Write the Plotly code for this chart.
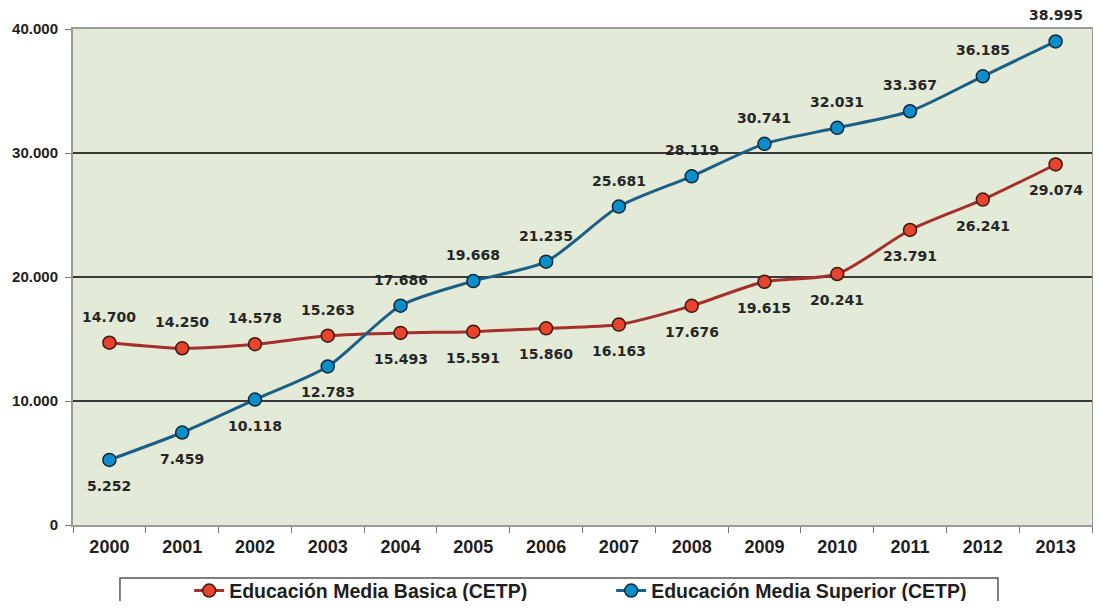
import plotly.graph_objects as go

# datos
anios = ["2000", "2001", "2002", "2003", "2004", "2005", "2006",
         "2007", "2008", "2009", "2010", "2011", "2012", "2013"]
basica = [14700, 14250, 14578, 15263, 15493, 15591, 15860,
          16163, 17676, 19615, 20241, 23791, 26241, 29074]
superior = [5252, 7459, 10118, 12783, 17686, 19668, 21235,
            25681, 28119, 30741, 32031, 33367, 36185, 38995]

# etiqueta arriba (+1) o abajo (-1)
lado_basica = [1, 1, 1, 1] + [-1] * 10
lado_superior = [-1, -1, -1, -1] + [1] * 10


def fmt(v):
    return f"{v:,.0f}".replace(",", ".")


fuente = "Liberation Sans"
fuente_etq = "DejaVu Sans"

fig = go.Figure()

fig.add_trace(go.Scatter(
    x=anios, y=basica,
    name="Educación Media Basica (CETP)",
    mode="lines+markers",
    line=dict(color="#A3302B", width=3, shape="spline", smoothing=0.7),
    marker=dict(size=13, color="#E8432C", line=dict(color="#3A1A12", width=1.5)),
    cliponaxis=False,
))

fig.add_trace(go.Scatter(
    x=anios, y=superior,
    name="Educación Media Superior (CETP)",
    mode="lines+markers",
    line=dict(color="#1B5E86", width=3, shape="spline", smoothing=0.7),
    marker=dict(size=13, color="#0C8DCC", line=dict(color="#10283A", width=1.5)),
    cliponaxis=False,
))

# etiquetas de datos (x por indice de categoria)
for serie, lados in ((basica, lado_basica), (superior, lado_superior)):
    for i, (v, s) in enumerate(zip(serie, lados)):
        fig.add_annotation(
            x=i, y=v, text=fmt(v), showarrow=False,
            yshift=26 * s,
            font=dict(family=fuente_etq, size=14, color="#262626", weight="bold"),
        )

# marco de la leyenda
fig.add_shape(
    type="rect", xref="paper", yref="paper",
    x0=0.0461, x1=0.9077, y0=-0.107, y1=-0.2,
    line=dict(color="#555555", width=1.5), fillcolor="white",
)

fig.update_layout(
    width=1085, height=593,
    margin=dict(l=65, r=1, t=21, b=76),
    paper_bgcolor="white",
    plot_bgcolor="#E3EAD7",
    separators=",.",
    showlegend=True,
    legend=dict(
        orientation="h",
        x=0.114, xanchor="left",
        yref="container", y=0.05, yanchor="top",
        borderwidth=0,
        entrywidth=377,
        font=dict(family=fuente, size=19.5, color="#1E1E1E", weight="bold"),
        bgcolor="rgba(0,0,0,0)",
    ),
)

fig.update_xaxes(
    type="category", range=[-0.5, 13.5], automargin=False,
    showline=True, linecolor="#9A9A9A", linewidth=2, mirror=True,
    ticks="outside", tickson="boundaries", ticklen=6, tickcolor="#777777",
    ticklabelstandoff=4,
    tickfont=dict(family=fuente, size=18, color="#1E1E1E", weight="bold"),
    showgrid=False,
)

fig.update_yaxes(
    range=[0, 40000], dtick=10000, tickformat=",.0f", automargin=False,
    showline=True, linecolor="#9A9A9A", linewidth=2, mirror=True,
    ticks="outside", ticklen=6, tickcolor="#777777", ticklabelstandoff=4,
    showgrid=True, gridcolor="#3A3A3A", gridwidth=1.5,
    zeroline=False,
    tickfont=dict(family=fuente, size=15, color="#1E1E1E", weight="bold"),
)

fig.write_html("out.html")
